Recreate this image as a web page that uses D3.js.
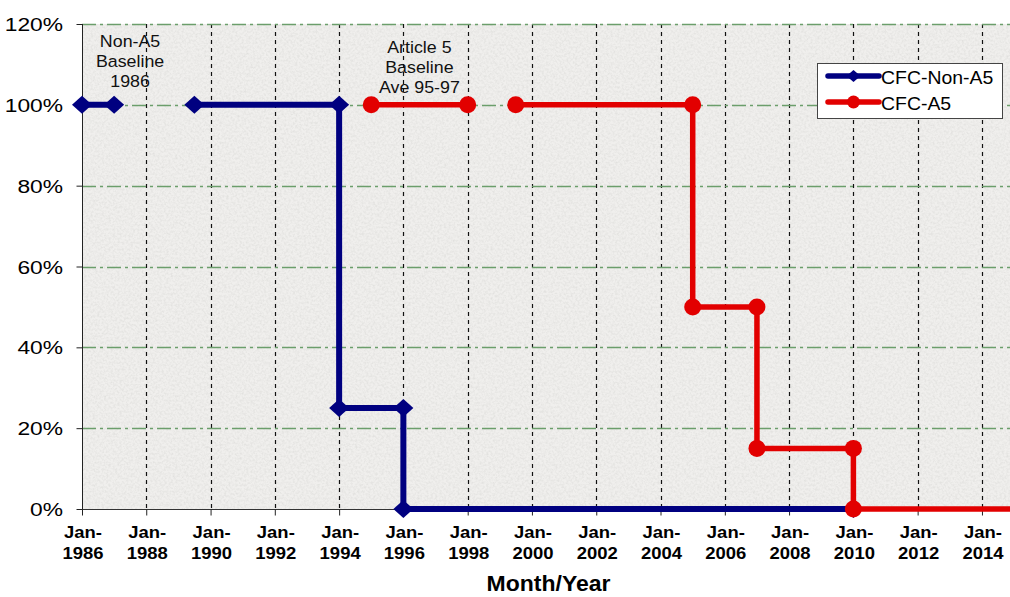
<!DOCTYPE html>
<html>
<head>
<meta charset="utf-8">
<script src="https://cdn.jsdelivr.net/npm/d3@7"></script>
<style>
  html, body { margin: 0; padding: 0; background: #ffffff; }
  svg { display: block; font-family: Arial, "Liberation Sans", Helvetica, sans-serif; }
</style>
</head>
<body>
<svg id="chart" width="1010" height="597"></svg>
<script>
// ---- data ----------------------------------------------------------------
// CFC phase-out schedules, % of baseline consumption (null = break in line)
const nonA5Dates  = ["1986-01", "1987-01", null, "1989-07", "1994-01", "1994-01", "1996-01", "1996-01", "2010-01"];
const nonA5Values = [100, 100, null, 100, 100, 25, 25, 0, 0];

const a5Dates  = ["1995-01", "1998-01", null, "1999-07", "2005-01", "2005-01", "2007-01", "2007-01", "2010-01", "2010-01", "2016-01"];
const a5Values = [100, 100, null, 100, 100, 50, 50, 15, 15, 0, 0];

const seriesNames = ["CFC-Non-A5", "CFC-A5"];

const xTickYears = [1986, 1988, 1990, 1992, 1994, 1996, 1998, 2000, 2002, 2004, 2006, 2008, 2010, 2012, 2014];
const yTicks = [0, 20, 40, 60, 80, 100, 120];

const notes = [
  { lines: ["Non-A5", "Baseline", "1986"], date: "1987-07", firstBaseline: 47 },
  { lines: ["Article 5", "Baseline", "Ave 95-97"], date: "1996-07", firstBaseline: 53 }
];

// ---- layout ---------------------------------------------------------------
const svg = d3.select("#chart");
const W = 1010, H = 597;
const plotLeft = 82, plotTop = 24, plotBottom = 509;
const parse = d3.timeParse("%Y-%m");

const x = d3.scaleTime()
  .domain([new Date(1986, 0, 1), new Date(2016, 0, 1)])
  .range([plotLeft, plotLeft + 30 * 32.14]);
const y = d3.scaleLinear().domain([0, 120]).range([plotBottom, plotTop]);

const toPoints = (dates, values) =>
  dates.map((d, i) => d === null ? null : { date: parse(d), value: values[i] });
const nonA5 = toPoints(nonA5Dates, nonA5Values);
const a5 = toPoints(a5Dates, a5Values);

// horizontally widened text, as in the original artwork
function stretchText(g, str, px, py, opts) {
  const sx = opts.sx || 1.1;
  return g.append("text")
    .attr("transform", `translate(${px},${py}) scale(${sx},1)`)
    .attr("text-anchor", opts.anchor || "middle")
    .attr("font-size", opts.size)
    .attr("font-weight", opts.weight || "normal")
    .attr("fill", opts.fill || "#000")
    .text(str);
}

// ---- plot background with granite grain -----------------------------------
const defs = svg.append("defs");
const grain = defs.append("filter").attr("id", "grain")
  .attr("x", 0).attr("y", 0).attr("width", "100%").attr("height", "100%");
grain.append("feTurbulence")
  .attr("type", "fractalNoise").attr("baseFrequency", 0.45)
  .attr("numOctaves", 3).attr("seed", 7).attr("result", "noise");
grain.append("feColorMatrix").attr("in", "noise").attr("type", "matrix")
  .attr("values", "0 0 0 0 0.58  0 0 0 0 0.58  0 0 0 0 0.56  0.7 0 0 0 -0.26");

svg.append("rect")
  .attr("x", plotLeft).attr("y", plotTop).attr("width", W - plotLeft).attr("height", plotBottom - plotTop)
  .attr("fill", "#f0efed");
svg.append("rect")
  .attr("x", plotLeft).attr("y", plotTop).attr("width", W - plotLeft).attr("height", plotBottom - plotTop)
  .attr("filter", "url(#grain)");

// ---- grid ------------------------------------------------------------------
const tickDates = xTickYears.map(yr => new Date(yr, 0, 1));

svg.append("g").selectAll("line")
  .data(tickDates.slice(1))
  .join("line")
  .attr("x1", d => Math.round(x(d)) + 0.5).attr("x2", d => Math.round(x(d)) + 0.5)
  .attr("y1", plotTop).attr("y2", plotBottom)
  .attr("stroke", "#111").attr("stroke-width", 1.2)
  .attr("stroke-dasharray", "4,4");

svg.append("g").selectAll("line")
  .data(yTicks.filter(v => v > 0))
  .join("line")
  .attr("x1", plotLeft).attr("x2", W)
  .attr("y1", d => Math.round(y(d)) + 0.5).attr("y2", d => Math.round(y(d)) + 0.5)
  .attr("stroke", "#6b9e6b").attr("stroke-width", 1.4)
  .attr("stroke-dasharray", "14,4,3,4");

// ---- axes ------------------------------------------------------------------
const yAxis = d3.axisLeft(y).tickValues(yTicks).tickSize(6).tickFormat(() => "");
const yG = svg.append("g").attr("transform", `translate(${plotLeft + 0.5},0)`).call(yAxis);
yG.select(".domain").attr("stroke", "#222").attr("d", `M0,${plotTop}V${plotBottom}`);
yG.selectAll(".tick line").attr("stroke", "#222");

const xAxis = d3.axisBottom(x).tickValues(tickDates).tickSize(6).tickFormat(() => "");
const xG = svg.append("g").attr("transform", `translate(0,${plotBottom + 0.5})`).call(xAxis);
xG.select(".domain").attr("stroke", "#333").attr("d", `M${plotLeft},0H${W}`);
xG.selectAll(".tick line").attr("stroke", "#222");

const yLab = svg.append("g");
yTicks.forEach(v => {
  stretchText(yLab, `${v}%`, 63, y(v) + 7, { size: 19, anchor: "end", sx: 1.2 });
});

const xLab = svg.append("g");
tickDates.forEach(d => {
  stretchText(xLab, "Jan-", x(d) + 1, 538, { size: 16.5, weight: "bold", sx: 1.12 });
  stretchText(xLab, d3.timeFormat("%Y")(d), x(d) + 1, 559, { size: 16.5, weight: "bold", sx: 1.12 });
});

stretchText(svg, "Month/Year", 548.5, 591, { size: 21.5, weight: "bold", sx: 1.07 });

// ---- series ----------------------------------------------------------------
const line = d3.line()
  .defined(d => d !== null)
  .x(d => x(d.date)).y(d => y(d.value));

const diamond = (hw, hh) => `M0,${-hh}L${hw},0L0,${hh}L${-hw},0Z`;

const blue = "#000080", red = "#e20000";

svg.append("path").datum(nonA5)
  .attr("d", line).attr("fill", "none")
  .attr("stroke", blue).attr("stroke-width", 6).attr("stroke-linejoin", "miter");
svg.append("g").selectAll("path")
  .data(nonA5.filter(d => d !== null))
  .join("path")
  .attr("transform", d => `translate(${x(d.date)},${y(d.value)})`)
  .attr("d", diamond(10, 9)).attr("fill", blue);

svg.append("path").datum(a5)
  .attr("d", line).attr("fill", "none")
  .attr("stroke", red).attr("stroke-width", 5.5).attr("stroke-linejoin", "miter");
svg.append("g").selectAll("circle")
  .data(a5.filter(d => d !== null))
  .join("circle")
  .attr("cx", d => x(d.date)).attr("cy", d => y(d.value))
  .attr("r", 8.5).attr("fill", red);

// ---- notes -----------------------------------------------------------------
notes.forEach(n => {
  const g = svg.append("g");
  n.lines.forEach((t, i) => {
    stretchText(g, t, x(parse(n.date)), n.firstBaseline + i * 20, { size: 16.5, sx: 1.08, fill: "#111" });
  });
});

// ---- legend ----------------------------------------------------------------
const lg = svg.append("g");
lg.append("rect")
  .attr("x", 817.5).attr("y", 63.5).attr("width", 185).attr("height", 55)
  .attr("fill", "#ffffff").attr("stroke", "#444").attr("stroke-width", 1);

const legendItems = [
  { name: seriesNames[0], color: blue, ly: 76, shape: "diamond" },
  { name: seriesNames[1], color: red, ly: 102, shape: "circle" }
];
legendItems.forEach(it => {
  lg.append("line")
    .attr("x1", 828).attr("x2", 879).attr("y1", it.ly).attr("y2", it.ly)
    .attr("stroke", it.color).attr("stroke-width", 5.5).attr("stroke-linecap", "round");
  if (it.shape === "diamond") {
    lg.append("path").attr("transform", `translate(853.5,${it.ly})`)
      .attr("d", diamond(7, 6)).attr("fill", it.color);
  } else {
    lg.append("circle").attr("cx", 853.5).attr("cy", it.ly).attr("r", 6.5).attr("fill", it.color);
  }
  stretchText(lg, it.name, 881, it.ly + 7.5, { size: 18, anchor: "start", sx: 1.08 });
});
</script>
</body>
</html>
